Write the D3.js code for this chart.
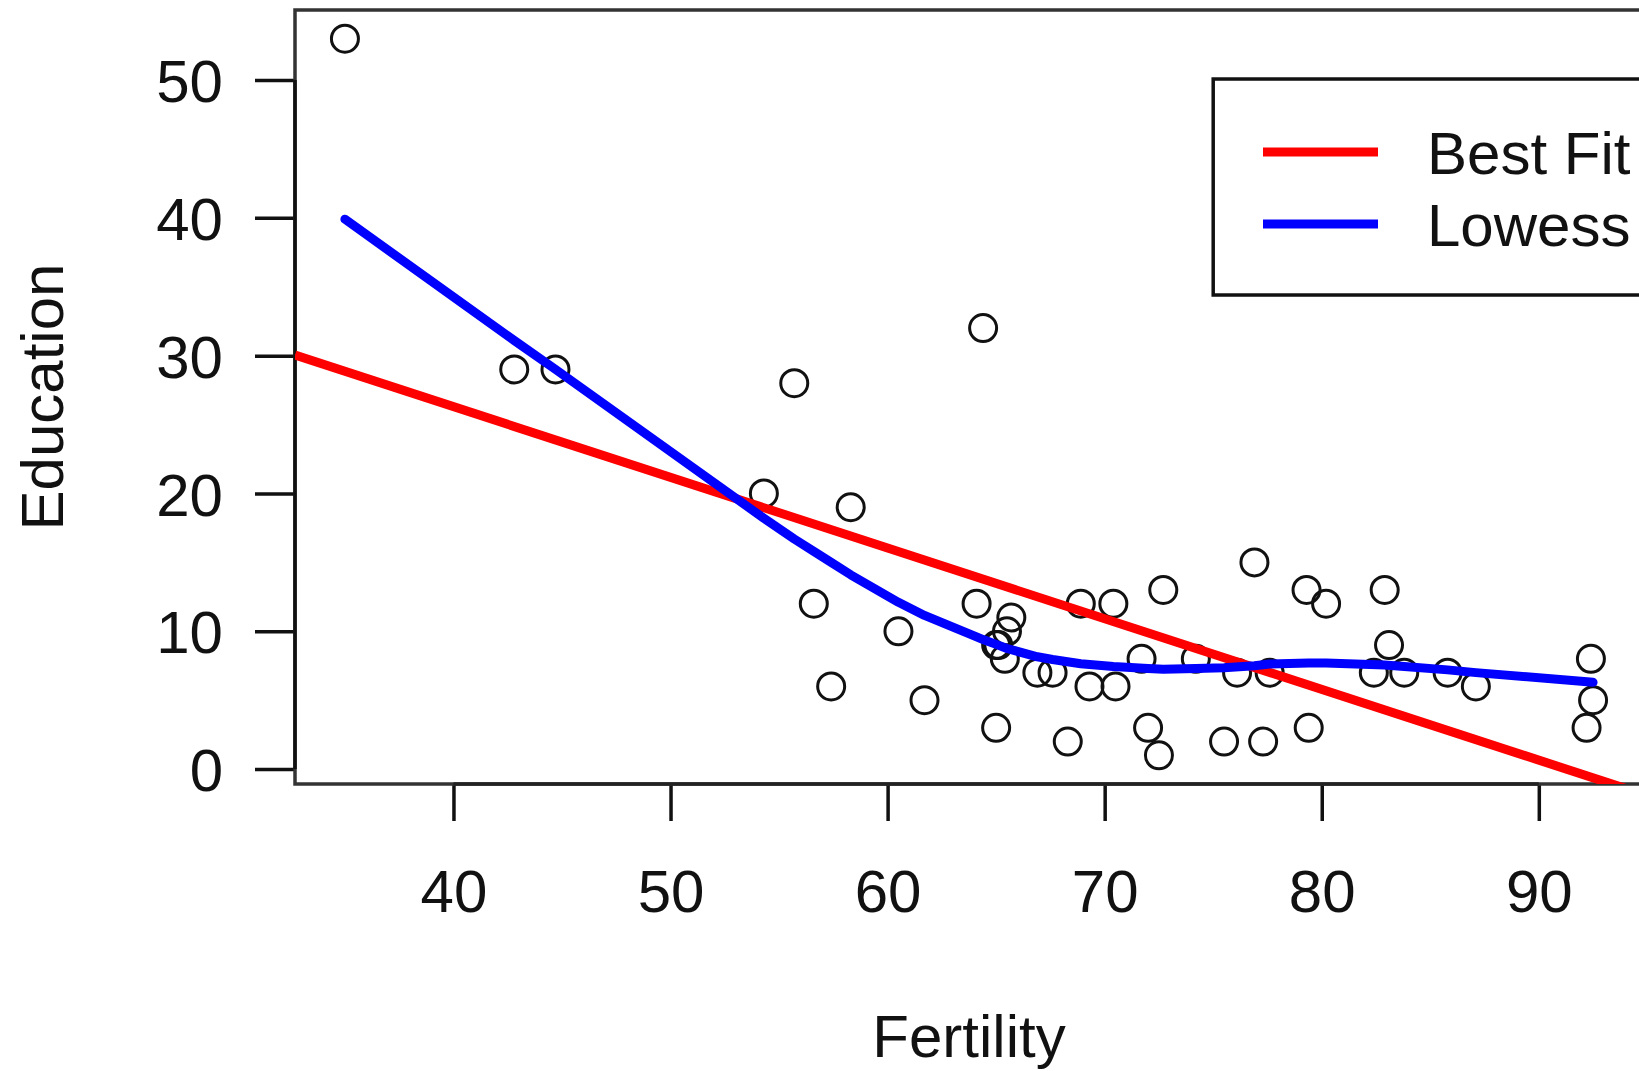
<!DOCTYPE html>
<html lang="en">
<head>
  <meta charset="UTF-8">
  <title>Fertility vs Education</title>
  <script src="https://cdn.jsdelivr.net/npm/d3@7"></script>
  <style>
    html, body { margin: 0; padding: 0; background: #fff; }
    svg { display: block; font-family: "Liberation Sans", Arial, sans-serif; }
  </style>
</head>
<body>
<div id="graph"></div>

<script>
  // data
  const fertility = [80.2, 83.1, 92.5, 85.8, 76.9, 76.1, 83.8, 92.4, 82.4, 82.9, 87.1, 64.1, 66.9, 68.9, 61.7, 68.3,
    71.7, 55.7, 54.3, 65.1, 65.5, 65.0, 56.6, 57.4, 72.5, 74.2, 72.0, 60.5, 58.3, 65.4, 75.5, 69.3, 77.3, 70.5, 79.4,
    65.0, 92.2, 79.3, 70.4, 65.7, 72.7, 64.4, 77.6, 67.6, 35.0, 44.7, 42.8]
  const education = [12, 9, 5, 7, 15, 7, 7, 8, 7, 13, 6, 12, 7, 12, 5, 2,
    8, 28, 20, 9, 10, 3, 12, 6, 1, 8, 3, 10, 19, 8, 2, 6, 2, 6, 3,
    9, 3, 13, 12, 11, 13, 32, 7, 7, 53, 29, 29]

  // best fit line (intercept, slope)
  const fitIntercept = 46.82
  const fitSlope = -0.513

  // lowess curve
  const lowessX = [35.0, 42.8, 44.7, 54.3, 55.7, 56.6, 57.4, 58.3, 60.5, 61.7, 64.1, 64.4, 65.0, 65.5, 66.9, 67.6,
    68.9, 70.4, 72.0, 72.7, 74.2, 75.5, 76.9, 77.6, 79.4, 80.2, 82.9, 83.8, 85.8, 87.1, 92.5]
  const lowessY = [39.9, 31.1, 29.0, 18.2, 16.7, 15.8, 15.0, 14.1, 12.1, 11.15, 9.6, 9.4, 9.05, 8.75, 8.15, 7.95,
    7.65, 7.45, 7.3, 7.25, 7.3, 7.35, 7.5, 7.62, 7.7, 7.7, 7.55, 7.45, 7.2, 7.0, 6.3]

  const xTicks = [40, 50, 60, 70, 80, 90]
  const yTicks = [0, 10, 20, 30, 40, 50]
  const legendLabels = ['Best Fit', 'Lowess']
  const legendColors = ['#ff0000', '#0000ff']

  // layout
  const width = 1639
  const height = 1071
  const plotLeft = 295
  const plotRight = 1643
  const plotTop = 10
  const plotBottom = 784
  const fontSize = 60

  const svg = d3.select('#graph')
  .append('svg')
  .attr('width', width)
  .attr('height', height)

  // R style 4% padding
  const pad = ([a, b]) => [a - (b - a) * 0.04, b + (b - a) * 0.04]
  const xlim = pad(d3.extent(fertility))
  const ylim = pad(d3.extent(education))

  const x = d3.scaleLinear().domain(xlim).range([plotLeft, plotRight])
  const y = d3.scaleLinear().domain(ylim).range([plotBottom, plotTop])

  svg.append('defs').append('clipPath')
  .attr('id', 'plot-clip')
  .append('rect')
  .attr('x', plotLeft)
  .attr('y', plotTop)
  .attr('width', plotRight - plotLeft)
  .attr('height', plotBottom - plotTop)

  // axes
  const xAxis = svg.append('g')
  .attr('transform', `translate(0,${plotBottom})`)
  .call(d3.axisBottom(x).tickValues(xTicks).tickSize(37).tickPadding(48).tickSizeOuter(0))
  xAxis.select('.domain').remove()

  const yAxis = svg.append('g')
  .attr('transform', `translate(${plotLeft},0)`)
  .call(d3.axisLeft(y).tickValues(yTicks).tickSize(40).tickPadding(32).tickSizeOuter(0))
  yAxis.select('.domain').remove()

  svg.selectAll('.tick line').attr('stroke', '#111').attr('stroke-width', 3.5)
  svg.selectAll('.tick text')
  .attr('fill', '#111')
  .style('font-size', fontSize + 'px')
  .style('font-family', '"Liberation Sans", Arial, sans-serif')
  yAxis.selectAll('.tick text').attr('dy', '0.36em')

  // box
  svg.append('rect')
  .attr('x', plotLeft)
  .attr('y', plotTop)
  .attr('width', plotRight - plotLeft)
  .attr('height', plotBottom - plotTop)
  .attr('fill', 'none')
  .attr('stroke', '#333')
  .attr('stroke-width', 3.5)

  // axis lines between first and last tick
  svg.append('line')
  .attr('x1', x(xTicks[0])).attr('x2', x(xTicks[xTicks.length - 1]))
  .attr('y1', plotBottom).attr('y2', plotBottom)
  .attr('stroke', '#222').attr('stroke-width', 3.5)
  svg.append('line')
  .attr('x1', plotLeft).attr('x2', plotLeft)
  .attr('y1', y(yTicks[0])).attr('y2', y(yTicks[yTicks.length - 1]))
  .attr('stroke', '#111').attr('stroke-width', 3.5)

  // labels
  svg.append('text')
  .attr('x', (plotLeft + plotRight) / 2)
  .attr('y', 1057)
  .attr('text-anchor', 'middle')
  .attr('fill', '#111')
  .style('font-size', fontSize + 'px')
  .text('Fertility')

  svg.append('text')
  .attr('transform', `translate(63,${(plotTop + plotBottom) / 2}) rotate(-90)`)
  .attr('text-anchor', 'middle')
  .attr('fill', '#111')
  .style('font-size', fontSize + 'px')
  .text('Education')

  const plot = svg.append('g').attr('clip-path', 'url(#plot-clip)')

  // points
  plot.append('g')
  .selectAll('circle')
  .data(d3.zip(fertility, education))
  .join('circle')
  .attr('cx', d => x(d[0]))
  .attr('cy', d => y(d[1]))
  .attr('r', 13.5)
  .attr('fill', 'none')
  .attr('stroke', '#111')
  .attr('stroke-width', 3)

  // best fit
  plot.append('line')
  .attr('x1', x(xlim[0]))
  .attr('y1', y(fitIntercept + fitSlope * xlim[0]))
  .attr('x2', x(xlim[1]))
  .attr('y2', y(fitIntercept + fitSlope * xlim[1]))
  .attr('stroke', legendColors[0])
  .attr('stroke-width', 9)

  // lowess
  const line = d3.line().x(d => x(d[0])).y(d => y(d[1]))
  plot.append('path')
  .datum(d3.zip(lowessX, lowessY))
  .attr('d', line)
  .attr('fill', 'none')
  .attr('stroke', legendColors[1])
  .attr('stroke-width', 9)
  .attr('stroke-linejoin', 'round')
  .attr('stroke-linecap', 'round')

  // legend, top-left corner at (75, 50)
  const legend = svg.append('g')
  legend.append('rect')
  .attr('x', x(75))
  .attr('y', y(50) - 1)
  .attr('width', 600)
  .attr('height', 216)
  .attr('fill', '#fff')
  .attr('stroke', '#111')
  .attr('stroke-width', 3.5)

  legendLabels.forEach((label, i) => {
    const ly = 152 + i * 72
    legend.append('line')
    .attr('x1', 1263).attr('x2', 1378)
    .attr('y1', ly).attr('y2', ly)
    .attr('stroke', legendColors[i])
    .attr('stroke-width', 9)
    legend.append('text')
    .attr('x', 1427)
    .attr('y', ly + 22)
    .attr('fill', '#111')
    .style('font-size', fontSize + 'px')
    .text(label)
  })
</script>
</body>
</html>
